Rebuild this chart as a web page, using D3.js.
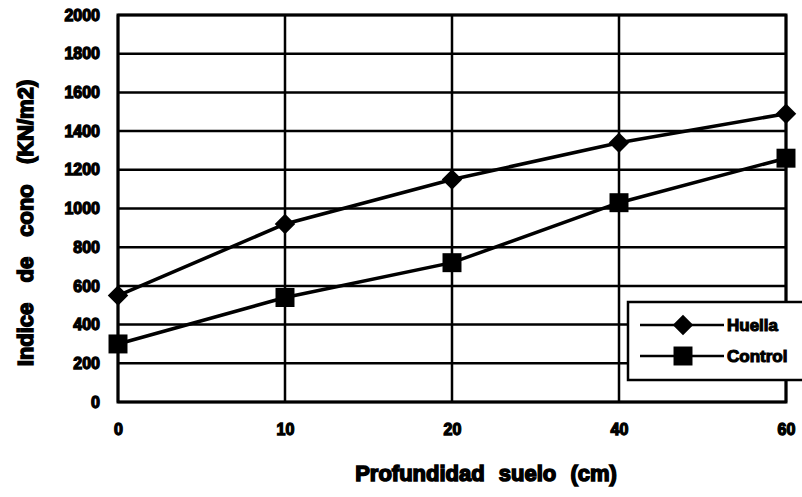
<!DOCTYPE html>
<html>
<head>
<meta charset="utf-8">
<script src="https://cdn.jsdelivr.net/npm/d3@7"></script>
<style>
  body { margin: 0; background: #fff; }
  text { font-family: "Liberation Sans", Arial, sans-serif; font-weight: bold; fill: #000; }
</style>
</head>
<body>
<div id="chart"></div>
<script>
// data
var depths  = ["0", "10", "20", "40", "60"];
var huella  = [550, 920, 1150, 1340, 1490];
var control = [300, 540, 720, 1030, 1260];
var yTicks  = [0, 200, 400, 600, 800, 1000, 1200, 1400, 1600, 1800, 2000];
var seriesNames = ["Huella", "Control"];

var width = 802, height = 497;
var plot = { left: 118, right: 786, top: 15, bottom: 402 };

var svg = d3.select("#chart").append("svg")
    .attr("width", width)
    .attr("height", height);

var x = d3.scalePoint()
    .domain(depths)
    .range([plot.left, plot.right])
    .padding(0);

var y = d3.scaleLinear()
    .domain([0, 2000])
    .range([plot.bottom, plot.top]);

// horizontal grid
svg.append("g")
    .selectAll("line")
    .data(yTicks)
    .enter().append("line")
    .attr("x1", plot.left).attr("x2", plot.right)
    .attr("y1", function(d) { return y(d); })
    .attr("y2", function(d) { return y(d); })
    .attr("stroke", "#000")
    .attr("stroke-width", 2.5);

// vertical grid
svg.append("g")
    .selectAll("line")
    .data(depths)
    .enter().append("line")
    .attr("x1", function(d) { return x(d); })
    .attr("x2", function(d) { return x(d); })
    .attr("y1", plot.top).attr("y2", plot.bottom)
    .attr("stroke", "#000")
    .attr("stroke-width", 2.5);

// frame
svg.append("rect")
    .attr("x", plot.left).attr("y", plot.top)
    .attr("width", plot.right - plot.left)
    .attr("height", plot.bottom - plot.top)
    .attr("fill", "none")
    .attr("stroke", "#000")
    .attr("stroke-width", 3);

// y axis labels
var yAxis = d3.axisLeft(y).tickValues(yTicks).tickFormat(d3.format("d")).tickSize(0).tickPadding(18);
var yAxisGroup = svg.append("g")
    .attr("transform", "translate(" + plot.left + ",0)")
    .call(yAxis);
yAxisGroup.select(".domain").remove();
yAxisGroup.selectAll("text")
    .attr("font-size", 16)
    .style("font-family", "'Liberation Sans', Arial, sans-serif")
    .style("font-weight", "bold")
    .attr("stroke", "#000")
    .attr("stroke-width", 1.3);

// x axis labels
var xAxis = d3.axisBottom(x).tickSize(0).tickPadding(22);
var xAxisGroup = svg.append("g")
    .attr("transform", "translate(0," + plot.bottom + ")")
    .call(xAxis);
xAxisGroup.select(".domain").remove();
xAxisGroup.selectAll("text")
    .attr("font-size", 16)
    .style("font-family", "'Liberation Sans', Arial, sans-serif")
    .style("font-weight", "bold")
    .attr("stroke", "#000")
    .attr("stroke-width", 1.3);

// series lines and markers
var line = d3.line()
    .x(function(d, i) { return x(depths[i]); })
    .y(function(d) { return y(d); });

// diamond = square turned 45 degrees
var diamond = d3.symbol().type(d3.symbolSquare).size(210);
var square  = d3.symbol().type(d3.symbolSquare).size(360);

[huella, control].forEach(function(vals, k) {
  svg.append("path")
      .datum(vals)
      .attr("d", line)
      .attr("fill", "none")
      .attr("stroke", "#000")
      .attr("stroke-width", 3.5);

  svg.append("g")
      .selectAll("path")
      .data(vals)
      .enter().append("path")
      .attr("transform", function(d, i) {
        return "translate(" + x(depths[i]) + "," + y(d) + ")" + (k === 0 ? " rotate(45)" : "");
      })
      .attr("d", k === 0 ? diamond : square)
      .attr("fill", "#000");
});

// legend
var legend = svg.append("g").attr("transform", "translate(628,302)");
legend.append("rect")
    .attr("width", 190).attr("height", 78)
    .attr("fill", "#fff")
    .attr("stroke", "#000")
    .attr("stroke-width", 2.5);

seriesNames.forEach(function(name, k) {
  var ly = k === 0 ? 23 : 54;
  legend.append("line")
      .attr("x1", 12).attr("x2", 96)
      .attr("y1", ly).attr("y2", ly)
      .attr("stroke", "#000")
      .attr("stroke-width", 2.5);
  legend.append("path")
      .attr("transform", "translate(55," + ly + ")" + (k === 0 ? " rotate(45)" : ""))
      .attr("d", k === 0 ? diamond : square)
      .attr("fill", "#000");
  legend.append("text")
      .attr("x", 99)
      .attr("y", ly + 6)
      .attr("font-size", 17)
      .attr("stroke", "#000")
      .attr("stroke-width", 1.1)
      .text(name);
});

// axis titles
svg.append("text")
    .attr("x", 486)
    .attr("y", 481)
    .attr("text-anchor", "middle")
    .attr("font-size", 22)
    .attr("stroke", "#000")
    .attr("stroke-width", 1.5)
    .style("word-spacing", "8px")
    .text("Profundidad suelo (cm)");

svg.append("text")
    .attr("transform", "translate(33,223) rotate(-90)")
    .attr("text-anchor", "middle")
    .attr("font-size", 22)
    .attr("stroke", "#000")
    .attr("stroke-width", 1.5)
    .style("word-spacing", "14px")
    .text("Indice de cono (KN/m2)");
</script>
</body>
</html>
